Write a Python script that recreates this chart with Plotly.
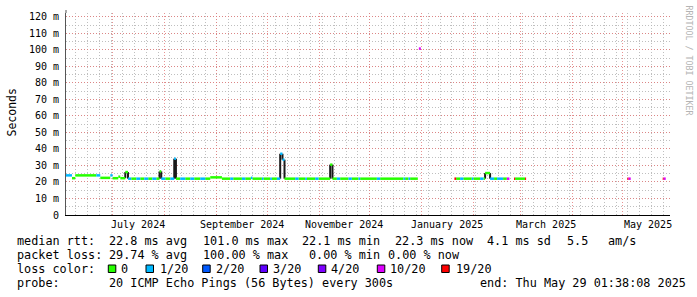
import math
import pandas as pd
import plotly.graph_objects as go

# ---------------- data ----------------
T0 = pd.Timestamp("2024-06-03 01:38:08")
T_END = pd.Timestamp("2025-05-29 01:38:08")

# median rtt step samples: start day (days since T0), median rtt (ms), lost pings of 20
step_day = [0, 3.57, 5.54, 18.05, 20.43, 26.39, 27.76, 31.16, 32.35, 35.33,
            36.94, 38.90, 41.88, 44.26, 46.65, 49.03, 51.41, 53.79, 55.76, 56.77,
            59.16, 62.14, 64.52, 65.53, 68.09, 71.07, 74.05, 76.43, 80.01, 82.99,
            85.97, 92.94, 97.88, 99.67, 104.85, 106.82, 110.21, 111.16, 116.76, 117.71,
            121.70, 122.72, 125.70, 127.66, 129.03, 130.23, 136.60, 138.57, 142.56, 143.57,
            148.52, 150.48, 157.45, 158.82, 161.44, 163.41, 168.35, 170.38, 174.31, 175.32,
            185.27, 187.24, 201.12, 202.13, 204.10, 205.11, 209.70, 210.30, 211.50,
            231.50, 232.51, 234.90, 236.86, 241.87, 242.82, 246.81, 248.78, 249.79, 252.77,
            255.15, 256.94, 260.52, 262.72, 264.27, 267.07, 267.67, 273.63, 274.22,
            334.56, 335.16, 336.59, 355.65, 356.13, 357.44]
nan = float("nan")
step_rtt = [24.0, 22.3, 24.0, 24.0, 22.5, 24.0, 22.3, 23.2, 22.3, 26.0,
            22.0, 22.0, 22.0, 22.0, 22.0, 22.0, 22.0, 22.0, 26.4, 22.0,
            22.0, 22.0, 34.1, 22.0, 22.0, 22.0, 22.0, 22.0, 22.0, 22.0,
            22.8, 22.0, 22.0, 22.0, 22.0, 22.0, 22.5, 22.0, 22.0, 22.0,
            22.0, 22.0, 22.0, 37.1, 33.5, 22.0, 22.0, 22.0, 22.0, 22.0,
            22.0, 22.0, 30.5, 22.0, 22.0, 22.0, 22.0, 22.0, 22.0, 22.0,
            22.0, 22.0, 22.0, 22.0, 22.0, 22.0, nan, 100.8, nan,
            22.0, 22.0, 22.0, 22.0, 22.0, 22.0, 22.0, 22.0, 25.4, 22.0,
            22.0, 22.0, 22.0, 22.0, nan, 22.0, 22.0, 22.0, nan,
            22.0, 22.0, nan, 22.0, 22.0, nan]
step_loss = [1, 0, 0, 1, 0, 1, 0, 0, 0, 0,
             1, 0, 1, 0, 1, 0, 1, 0, 0, 1,
             0, 1, 1, 0, 1, 0, 1, 0, 1, 0,
             0, 0, 1, 0, 1, 0, 1, 0, 1, 0,
             1, 0, 1, 1, 1, 0, 1, 0, 1, 0,
             1, 0, 0, 0, 1, 0, 1, 0, 1, 0,
             1, 0, 1, 0, 1, 0, 0, 10, 0,
             19, 0, 1, 0, 1, 0, 1, 0, 0, 1,
             0, 1, 0, 10, 0, 19, 0, 19, 0,
             19, 10, 0, 19, 10, 0]

loss_levels = [0, 1, 2, 3, 4, 10, 19]
loss_labels = ["0", "1/20", "2/20", "3/20", "4/20", "10/20", "19/20"]
loss_colors = ["#26ff00", "#00b8ff", "#0059ff", "#5e00ff", "#7e00ff", "#dd00ff", "#ff0000"]

y_ticks = [0, 10, 20, 30, 40, 50, 60, 70, 80, 90, 100, 110, 120]
y_ticktext = ["0"] + [f"{v} m" for v in y_ticks[1:]]

month_starts = ["2024-07-01", "2024-08-01", "2024-09-01", "2024-10-01", "2024-11-01",
                "2024-12-01", "2025-01-01", "2025-02-01", "2025-03-01", "2025-04-01",
                "2025-05-01"]
label_dates = ["2024-07-16", "2024-09-16", "2024-11-16", "2025-01-16", "2025-03-16", "2025-05-16"]
label_texts = ["July 2024", "September 2024", "November 2024", "January 2025",
               "March 2025", "May 2025"]

rtt_stats = [("22.8", "ms avg"), ("101.0", "ms max"), ("22.1", "ms min"), ("22.3", "ms now"),
             ("4.1", "ms sd")]
rtt_amps = "5.5"
loss_stats = [("29.74", "% avg"), ("100.00", "% max"), ("0.00", "% min"), ("0.00", "% now")]
probe_text = "20 ICMP Echo Pings (56 Bytes) every 300s"
end_text = "end: Thu May 29 01:38:08 2025"

# ---------------- helpers ----------------
W, H = 697, 297
ML, MR, MT, MB = 66, 27, 13, 82
PW, PH = W - ML - MR, H - MT - MB
MONO = "DejaVu Sans Mono"


def pxx(x):
    return (x - ML) / PW


def pxy(y):
    return (H - MB - y) / PH


def t(d):
    return T0 + pd.Timedelta(days=d)


fig = go.Figure()

# black step connectors (smoke edges)
cx, cy = [], []
for i in range(1, len(step_day)):
    a, b = step_rtt[i - 1], step_rtt[i]
    if not (math.isnan(a) or math.isnan(b)) and abs(a - b) > 2.5:
        cx += [t(step_day[i]), t(step_day[i]), None]
        cy += [a, b, None]
fig.add_trace(go.Scatter(x=cx, y=cy, mode="lines", line=dict(color="#1a1a1a", width=2),
                         hoverinfo="skip", showlegend=False))

# colored median segments by loss
for lvl, col in zip(loss_levels, loss_colors):
    xs, ys = [], []
    for i in range(len(step_day) - 1):
        if step_loss[i] == lvl and not math.isnan(step_rtt[i]):
            xs += [t(step_day[i]), t(step_day[i + 1]), None]
            ys += [step_rtt[i], step_rtt[i], None]
    if xs:
        fig.add_trace(go.Scatter(x=xs, y=ys, mode="lines", line=dict(color=col, width=2.5),
                                 hoverinfo="skip", showlegend=False))

# axis arrows
fig.add_trace(go.Scatter(x=[T_END + pd.Timedelta(hours=40)], y=[0], mode="markers",
                         marker=dict(symbol="triangle-right", size=7, color="#8b1a1a"),
                         cliponaxis=False, hoverinfo="skip", showlegend=False))
fig.add_trace(go.Scatter(x=[T0], y=[124.2], mode="markers",
                         marker=dict(symbol="triangle-up", size=7, color="#8b1a1a"),
                         cliponaxis=False, hoverinfo="skip", showlegend=False))

MGRID = "rgba(226,120,120,0.8)"
GRID = "rgba(180,180,180,0.85)"

fig.update_xaxes(type="date", range=[T0, T_END], tickmode="array", tickvals=month_starts,
                 showticklabels=False, ticks="", showgrid=True, gridcolor=MGRID,
                 griddash="1px,2px", gridwidth=1,
                 minor=dict(dtick=7 * 86400000, tick0="2024-06-09", showgrid=True,
                            gridcolor=GRID, griddash="1px,2px", gridwidth=1),
                 showline=True, linecolor="black", linewidth=1, zeroline=False)
fig.update_yaxes(range=[0, PH / 1.651], tickmode="array", tickvals=y_ticks, ticktext=y_ticktext,
                 tickfont=dict(family=MONO, size=10, color="black"), ticks="outside",
                 ticklen=4, tickcolor="rgba(0,0,0,0)", showgrid=True, gridcolor=MGRID,
                 griddash="1px,2px", gridwidth=1,
                 minor=dict(dtick=5, showgrid=True, gridcolor=GRID, griddash="1px,2px",
                            gridwidth=1),
                 showline=True, linecolor="#555555", linewidth=1, zeroline=False)

ann = []
for d, txt in zip(label_dates, label_texts):
    ann.append(dict(x=d, xref="x", y=pxy(224.5), yref="paper", text=txt, showarrow=False,
                    xanchor="center", yanchor="middle",
                    font=dict(family=MONO, size=10, color="black")))

# y axis title
ann.append(dict(x=pxx(11.5), y=pxy(113), xref="paper", yref="paper", text="Seconds",
                textangle=-90, showarrow=False, xanchor="center", yanchor="middle",
                font=dict(family=MONO, size=11.5, color="black")))
# watermark
ann.append(dict(x=pxx(688.5), y=pxy(60), xref="paper", yref="paper",
                text="RRDTOOL / TOBI OETIKER", textangle=90, showarrow=False,
                xanchor="center", yanchor="middle",
                font=dict(family=MONO, size=8.3, color="#b4b4b4")))

LF = 11.8


def text_at(x, y, s):
    ann.append(dict(x=pxx(x - 0.6), y=pxy(y), xref="paper", yref="paper", text=s,
                    showarrow=False, xanchor="left", yanchor="middle",
                    font=dict(family=MONO, size=LF, color="black")))


# legend line 1
text_at(16, 241, "median rtt:")
for xpos, (v, u) in zip([107.3, 201.7, 300.7, 393.3, 486], rtt_stats):
    text_at(xpos, 241, f"{v} {u}")
text_at(565.7, 241, rtt_amps)
text_at(606.7, 241, "am/s")
# legend line 2
text_at(16, 255, "packet loss:")
for xpos, (v, u) in zip([107.3, 201.7, 307.3, 386.7], loss_stats):
    text_at(xpos, 255, f"{v} {u}")
# legend line 3
text_at(16, 269, "loss color:")
box_x = [108.3, 146, 202.7, 260, 318.3, 377.3, 441.7]
lab_x = [120, 158.3, 215, 271.7, 329.3, 388.3, 455]
shapes = []
for bx, lx, lab, col in zip(box_x, lab_x, loss_labels, loss_colors):
    shapes.append(dict(type="rect", xref="paper", yref="paper", x0=pxx(bx), x1=pxx(bx + 7.5),
                       y0=pxy(272.5), y1=pxy(265), fillcolor=col,
                       line=dict(color="black", width=1)))
    text_at(lx, 269, lab)
# legend line 4
text_at(16, 283.3, "probe:")
text_at(107.3, 283.3, probe_text)
text_at(478.3, 283.3, end_text)

# y axis extension to arrow
shapes.append(dict(type="line", xref="paper", yref="paper", x0=0, x1=0, y0=1, y1=pxy(10),
                   line=dict(color="#555555", width=1)))

fig.update_layout(width=W, height=H, margin=dict(l=ML, r=MR, t=MT, b=MB),
                  paper_bgcolor="white", plot_bgcolor="white", showlegend=False,
                  annotations=ann, shapes=shapes)

fig.write_html("out.html")
